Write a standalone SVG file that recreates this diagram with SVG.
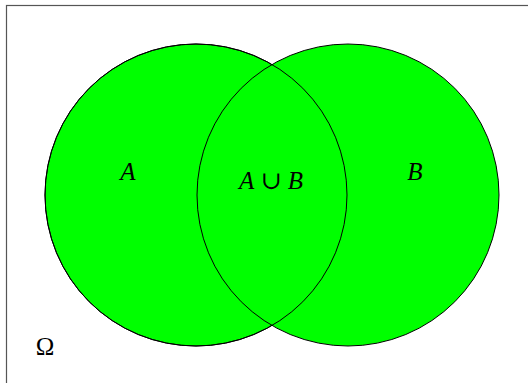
<svg xmlns="http://www.w3.org/2000/svg" width="528" height="383" viewBox="0 0 528 383">
<style>
.set{fill:#00ff00;stroke:#000;stroke-width:1}
.edge{fill:none;stroke:#000;stroke-width:1}
.lbl{font-family:"Liberation Serif","DejaVu Serif",serif;font-size:25px;fill:#000;text-anchor:middle}
.it{font-style:italic}
</style>
<rect x="0" y="0" width="528" height="383" fill="#fff"/>
<rect id="omega" x="6.5" y="5.5" width="530" height="390" fill="none" stroke="#555" stroke-width="1.2"/>
<g id="setA"><circle class="set" cx="196" cy="195" r="151"/></g>
<g id="setB"><circle class="set" cx="348" cy="195" r="151"/></g>
<g id="outlines"><circle class="edge" cx="196" cy="195" r="151"/></g>
<g id="labels">
<text class="lbl it" x="128" y="180">A</text>
<text class="lbl" x="271" y="189"><tspan class="it">A</tspan> ∪ <tspan class="it">B</tspan></text>
<text class="lbl it" x="415" y="180">B</text>
<text class="lbl" x="45" y="355">Ω</text>
</g>
</svg>
